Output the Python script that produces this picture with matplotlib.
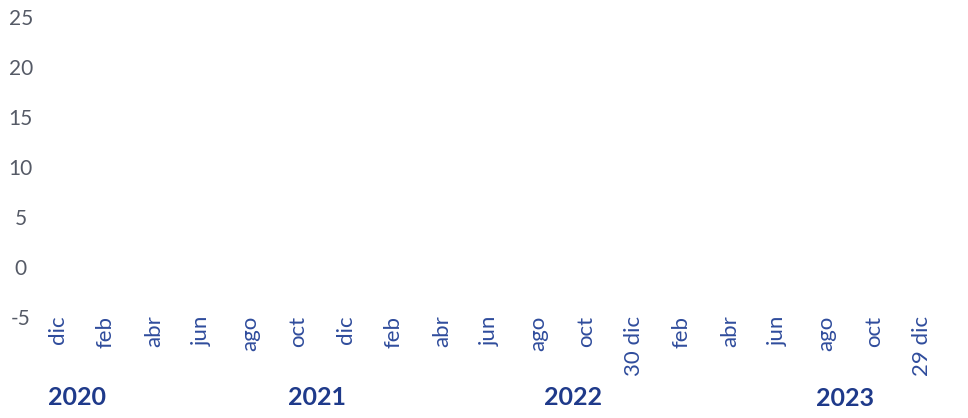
import matplotlib
matplotlib.use("Agg")
import matplotlib.pyplot as plt

# tick labels (bimonthly), y range and year captions
months = ["dic", "feb", "abr", "jun", "ago", "oct",
          "dic", "feb", "abr", "jun", "ago", "oct",
          "30 dic", "feb", "abr", "jun", "ago", "oct", "29 dic"]
y_ticks = [-5, 0, 5, 10, 15, 20, 25]
years = ["2020", "2021", "2022", "2023"]
year_pos = [0.4, 5.4, 10.73, 16.4]
year_y = [-0.267, -0.267, -0.267, -0.273]

plt.rcParams['font.family'] = ['Lato', 'DejaVu Sans']

fig = plt.figure(figsize=(9.68, 4.18), dpi=100)
ax = fig.add_axes([34 / 968, 101 / 418, 912 / 968, 300 / 418])

ax.set_xlim(-0.5, len(months) - 0.5)
ax.set_ylim(-5, 25)
ax.set_xticks(range(len(months)))
ax.set_xticklabels(months, rotation=90, va="top", ha="center",
                   fontsize=16, color="#2f4c9c")
ax.set_yticks(y_ticks)
ax.set_yticklabels([str(v) for v in y_ticks], ha="center",
                   fontsize=15, color="#555a66")
ax.tick_params(axis="x", length=0, pad=-1)
ax.tick_params(axis="y", length=0, pad=9.5)
for s in ax.spines.values():
    s.set_visible(False)

for name, xp, yp in zip(years, year_pos, year_y):
    ax.text(xp, yp, name, transform=ax.get_xaxis_transform(),
            ha="center", va="center", fontsize=18, fontweight="bold",
            color="#1f3a8a")

fig.savefig("out.png", dpi=100)
